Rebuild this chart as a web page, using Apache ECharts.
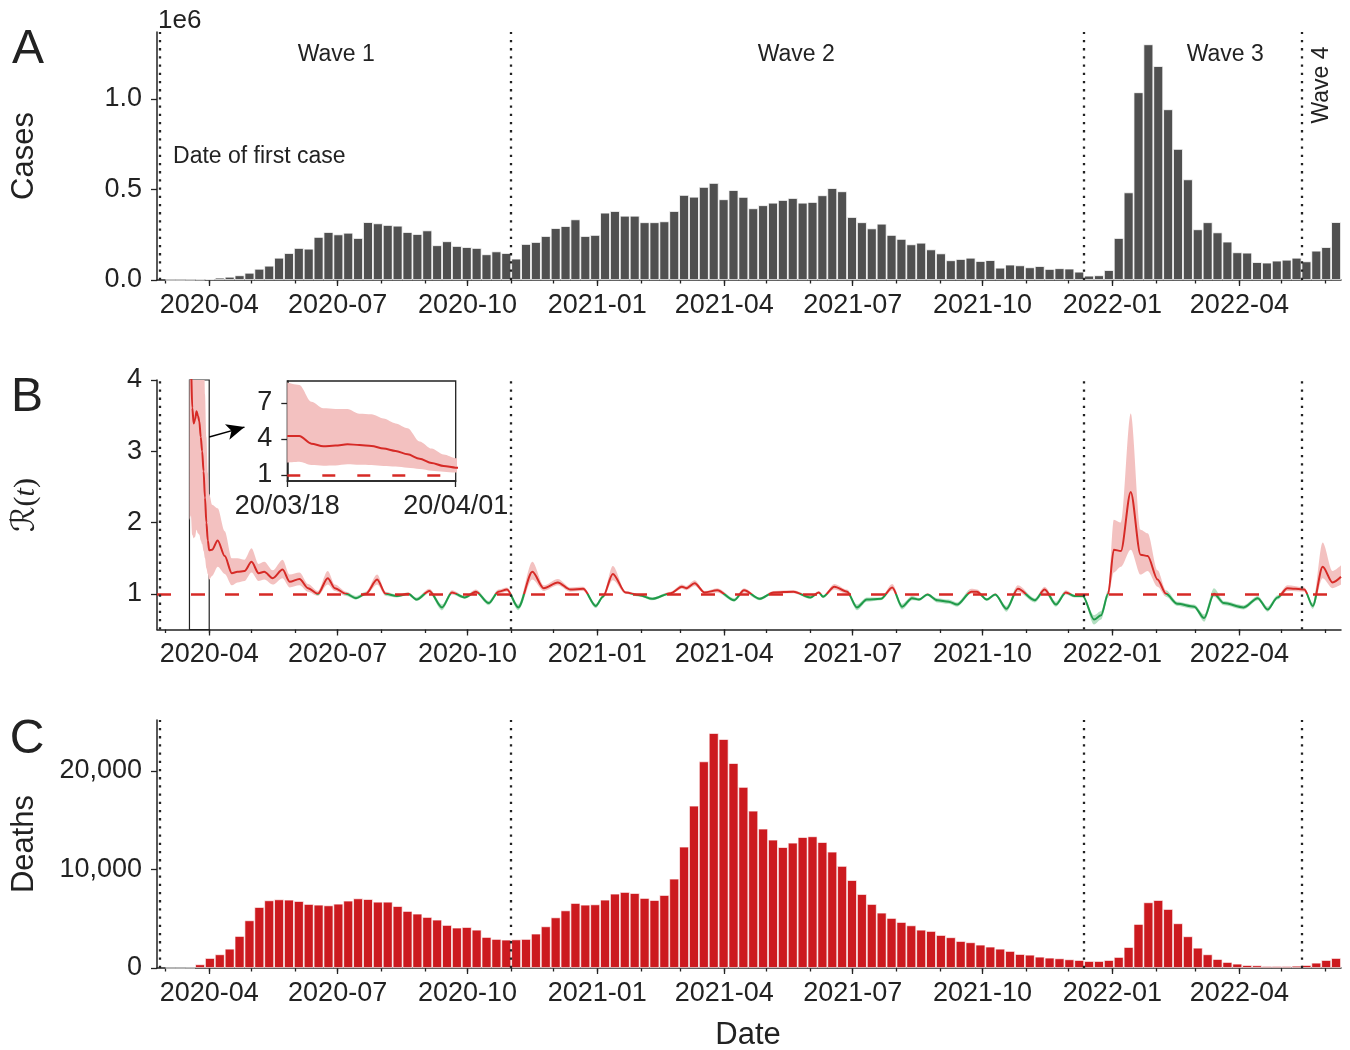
<!DOCTYPE html>
<html><head><meta charset="utf-8">
<script src="https://cdn.jsdelivr.net/npm/echarts@6/dist/echarts.min.js"></script>
<style>html,body{margin:0;padding:0;background:#fff}#c{width:1350px;height:1050px}</style>
</head><body><div id="c"></div>
<script>
// ---------------- DATA ----------------
// weekly bins, first week starts on this Sunday
const firstWeekStart = '2020-03-01';
const cases = [
 20,100,900,2400,6500,13000,18000,26000,40000,62000,
 79000,123000,149000,177000,173000,238000,265000,252000,261000,232000,
 320000,313000,304000,300000,265000,254000,274000,192000,214000,188000,
 182000,177000,142000,158000,149000,118000,199000,210000,243000,287000,
 298000,335000,243000,249000,372000,381000,355000,355000,319000,319000,
 324000,381000,470000,460000,514000,536000,446000,497000,459000,396000,
 413000,427000,442000,453000,427000,431000,468000,508000,490000,348000,
 319000,285000,311000,249000,227000,197000,206000,169000,147000,109000,
 116000,123000,105000,110000,68000,85000,81000,70000,77000,61000,
 65000,63000,46000,24000,26000,55000,232000,484000,1037000,1302000,
 1182000,943000,724000,556000,280000,319000,263000,212000,153000,151000,
 99000,96000,107000,112000,123000,103000,162000,182000,320000];
const deaths = [
 0,0,10,375,1015,1390,1960,3250,4840,6190,
 6870,6970,6940,6800,6500,6430,6360,6530,6840,7070,
 7000,6730,6730,6290,5790,5520,5180,4910,4370,4100,
 4160,3890,3150,2950,2880,2900,2950,3490,4230,5140,
 5850,6600,6430,6460,6940,7550,7720,7610,7110,6900,
 7410,9070,12320,16480,20980,23860,23250,20810,18380,15970,
 14150,13030,12280,12720,13300,13370,12790,11810,10360,8930,
 7510,6500,5620,5080,4670,4330,3890,3760,3350,3120,
 2740,2610,2370,2170,1960,1730,1420,1350,1150,1050,
 980,880,810,710,710,810,1120,2130,4470,6670,
 6900,5990,4540,3220,2060,1390,910,610,440,300,
 270,200,200,200,230,300,540,810,1015];

const rDates = [
 '2020-03-18','2020-03-19','2020-03-20','2020-03-21','2020-03-22','2020-03-23','2020-03-24','2020-03-25','2020-03-26','2020-03-27',
 '2020-03-28','2020-03-29','2020-03-30','2020-03-31','2020-04-01','2020-04-03','2020-04-07','2020-04-12','2020-04-17','2020-04-21',
 '2020-04-26','2020-05-01','2020-05-06','2020-05-10','2020-05-16','2020-05-23','2020-05-28','2020-06-04','2020-06-10','2020-06-17',
 '2020-06-24','2020-06-29','2020-07-07','2020-07-14','2020-07-21','2020-07-29','2020-08-04','2020-08-12','2020-08-20','2020-08-26',
 '2020-09-04','2020-09-13','2020-09-20','2020-09-29','2020-10-07','2020-10-16','2020-10-23','2020-10-29','2020-11-06','2020-11-16',
 '2020-11-24','2020-12-04','2020-12-13','2020-12-22','2020-12-31','2021-01-05','2021-01-12','2021-01-21','2021-01-31','2021-02-09',
 '2021-02-22','2021-03-02','2021-03-05','2021-03-11','2021-03-18','2021-03-27','2021-04-08','2021-04-15','2021-04-26','2021-05-06',
 '2021-05-20','2021-06-01','2021-06-07','2021-06-10','2021-06-18','2021-06-27','2021-07-04','2021-07-11','2021-07-21','2021-07-29',
 '2021-08-05','2021-08-12','2021-08-17','2021-08-23','2021-08-30','2021-09-07','2021-09-13','2021-09-23','2021-09-27','2021-10-04',
 '2021-10-10','2021-10-18','2021-10-26','2021-11-07','2021-11-14','2021-11-22','2021-11-29','2021-12-05','2021-12-11','2021-12-19',
 '2021-12-24','2021-12-29','2022-01-02','2022-01-07','2022-01-14','2022-01-21','2022-01-26','2022-02-02','2022-02-08','2022-02-16',
 '2022-02-28','2022-03-07','2022-03-14','2022-03-21','2022-04-04','2022-04-14','2022-04-21','2022-04-28','2022-05-05','2022-05-17',
 '2022-05-23','2022-05-30','2022-06-06','2022-06-12'];
const rMean = [
 4.25,4.25,3.61,3.39,3.45,3.56,3.5,3.42,3.2,3.0,
 2.72,2.35,2.0,1.75,1.61,1.62,1.75,1.53,1.29,1.31,
 1.32,1.45,1.29,1.31,1.22,1.34,1.17,1.21,1.08,1.0,
 1.22,1.08,1.0,0.94,1.0,1.2,1.0,0.97,1.0,0.92,
 1.04,0.81,1.02,0.95,1.03,0.87,1.03,1.06,0.81,1.31,
 1.08,1.16,1.06,1.07,0.83,0.96,1.28,1.02,0.98,0.93,
 1.01,1.1,1.08,1.15,1.02,1.05,0.91,1.05,0.93,1.02,
 1.03,0.95,1.02,0.96,1.1,1.03,0.81,0.92,0.93,1.09,
 0.82,0.94,0.92,0.99,0.91,0.89,0.85,1.03,1.03,0.92,
 0.99,0.79,1.07,0.91,1.06,0.85,1.02,0.97,0.97,0.64,
 0.7,1.0,1.62,1.6,2.43,1.55,1.53,1.2,1.0,0.86,
 0.82,0.66,1.0,0.87,0.81,0.94,0.78,0.95,1.08,1.06,
 0.83,1.38,1.16,1.24];
const rLow = [
 2.03,2.1,1.83,1.78,1.8,1.9,1.85,1.83,1.75,1.7,
 1.6,1.5,1.36,1.28,1.2,1.25,1.38,1.28,1.12,1.16,
 1.18,1.3,1.18,1.2,1.13,1.22,1.09,1.12,1.03,0.97,
 1.13,1.04,0.97,0.92,0.98,1.13,0.97,0.95,0.98,0.9,
 1.01,0.77,0.99,0.93,1.0,0.84,1.0,1.03,0.77,1.2,
 1.04,1.12,1.03,1.04,0.8,0.94,1.19,1.0,0.96,0.91,
 0.99,1.07,1.05,1.11,1.0,1.02,0.89,1.02,0.91,1.0,
 1.01,0.93,1.0,0.94,1.06,1.0,0.77,0.89,0.91,1.05,
 0.78,0.91,0.9,0.97,0.88,0.86,0.82,1.0,1.0,0.9,
 0.97,0.75,1.03,0.88,1.02,0.82,0.99,0.95,0.95,0.57,
 0.64,0.95,1.3,1.38,1.62,1.27,1.32,1.1,0.96,0.83,
 0.79,0.61,0.96,0.84,0.78,0.91,0.75,0.92,1.04,1.03,
 0.79,1.22,1.08,1.13];
const rHigh = [
 8.7,8.5,7.1,6.55,6.5,6.5,6.1,6.05,5.7,5.3,
 4.9,3.8,3.2,2.7,2.4,2.25,2.2,1.88,1.5,1.5,
 1.48,1.64,1.42,1.45,1.33,1.48,1.27,1.3,1.14,1.04,
 1.32,1.13,1.03,0.97,1.03,1.27,1.03,0.99,1.02,0.95,
 1.07,0.85,1.05,0.97,1.06,0.9,1.06,1.09,0.85,1.45,
 1.12,1.21,1.09,1.1,0.86,0.98,1.39,1.04,1.0,0.95,
 1.03,1.13,1.11,1.19,1.04,1.08,0.94,1.08,0.95,1.04,
 1.05,0.97,1.04,0.98,1.14,1.06,0.85,0.95,0.95,1.14,
 0.86,0.97,0.94,1.01,0.94,0.92,0.88,1.07,1.06,0.94,
 1.01,0.83,1.12,0.94,1.1,0.89,1.05,0.99,0.99,0.7,
 0.76,1.05,2.04,2.0,3.53,1.9,1.85,1.33,1.05,0.89,
 0.85,0.71,1.08,0.9,0.84,0.97,0.82,0.98,1.12,1.09,
 0.87,1.72,1.32,1.4];

const waveDates = ['2020-02-26','2020-11-01','2021-12-12','2022-05-15'];
const waveLabels = [
 {text:'Wave 1', date:'2020-06-30', value:1243000},
 {text:'Wave 2', date:'2021-05-22', value:1243000},
 {text:'Wave 3', date:'2022-03-22', value:1243000},
 {text:'Wave 4', date:'2022-05-29', value:1077000, rotate:90},
 {text:'Date of first case', date:'2020-03-06', value:680000, left:true}
];
const xTickLabels = ['2020-04','2020-07','2020-10','2021-01','2021-04','2021-07','2021-10','2022-01','2022-04'];
const casesTicks = [0, 500000, 1000000];
const rTicks = [1, 2, 3, 4];
const deathTicks = [0, 10000, 20000];
const insetRange = ['2020-03-18', '2020-04-01'];
const insetTicks = [1, 4, 7];

// ---------------- STYLE ----------------
const FONT = '"Liberation Sans", Arial, Helvetica, sans-serif';
const INK = '#222';
const RED = '#d62a26', GREEN = '#1f9a49', BAND_RED = '#f3c1c0', BAND_GREEN = '#b3dfc1';
const BAR_GRAY = '#505050', BAR_RED = '#cc1a1f';
const TICK_FS = 27;

function ts(s){ const p = s.split('-').map(Number); return Date.UTC(p[0], p[1]-1, p[2]||1); }
const X_MIN = ts('2020-02-24'), X_MAX = ts('2022-06-12');
const p0 = firstWeekStart.split('-').map(Number);
const weekCenter = k => Date.UTC(p0[0], p0[1]-1, p0[2] + 7*k + 3, 12);
const caseData = cases.map((v,k) => [weekCenter(k), v]);
const deathData = deaths.map((v,k) => [weekCenter(k), v]);
const rT = rDates.map(ts);
const lowData = rT.map((t,i) => [t, rLow[i]]);
const diffData = rT.map((t,i) => [t, +(rHigh[i]-rLow[i]).toFixed(4)]);
const meanData = rT.map((t,i) => [t, rMean[i]]);

const majorTicks = xTickLabels.map(ts);
const monthTicks = [];
for (let y = 2020, m = 2; y < 2022 || (y === 2022 && m <= 5); ) {
  const t = Date.UTC(y, m, 1);
  if (t >= X_MIN && t <= X_MAX) monthTicks.push(t);
  m++; if (m > 11) { m = 0; y++; }
}
const pad = n => String(n).padStart(2, '0');
const fmtYM = v => { const d = new Date(v); return d.getUTCFullYear() + '-' + pad(d.getUTCMonth()+1); };
const fmtYMD = v => { const d = new Date(v); return String(d.getUTCFullYear()).slice(2) + '/' + pad(d.getUTCMonth()+1) + '/' + pad(d.getUTCDate()); };

// band colour pieces along time: red where R >= 1, green otherwise (finite bounds)
const FAR = 1e12;
const bandPieces = [];
{
  let above = rMean[0] >= 1, start = X_MIN - FAR;
  for (let i = 1; i < rT.length; i++) {
    const a = rMean[i] >= 1;
    if (a !== above) {
      const f = (1 - rMean[i-1]) / (rMean[i] - rMean[i-1]);
      const tc = rT[i-1] + f * (rT[i] - rT[i-1]);
      bandPieces.push({gte: start, lt: tc, color: above ? BAND_RED : BAND_GREEN});
      start = tc; above = a;
    }
  }
  bandPieces.push({gte: start, lte: X_MAX + FAR, color: above ? BAND_RED : BAND_GREEN});
}

const axisLine = {show:true, onZero:false, lineStyle:{color:INK, width:1.5}};
const tickStyle = {color:INK, width:1.3};
const labelBase = {fontSize:TICK_FS, color:INK, fontFamily:FONT};

// display axes (value type, timestamps) – ticks & labels; also carry the bar series
function mainX(gi){
  return {type:'value', gridIndex:gi, position:'bottom', min:X_MIN, max:X_MAX, axisLine,
    axisTick:{show:true, customValues:majorTicks, length:6, lineStyle:tickStyle},
    axisLabel:Object.assign({customValues:majorTicks, formatter:fmtYM, margin:12}, labelBase),
    splitLine:{show:false}};
}
function minorX(gi){
  return {type:'value', gridIndex:gi, position:'bottom', min:X_MIN, max:X_MAX, axisLine:{show:false, onZero:false},
    axisTick:{show:true, customValues:monthTicks, length:3.5, lineStyle:tickStyle},
    axisLabel:{show:false}, splitLine:{show:false}};
}
// data axes (time type, hidden) – same range, carry the R(t) line/band series
function dataX(gi, min, max){
  return {type:'time', gridIndex:gi, position:'bottom', min, max, show:false,
    axisLine:{show:false, onZero:false}, axisTick:{show:false}, axisLabel:{show:false}, splitLine:{show:false}};
}
function yAx(gi, min, max, ticks, fmt){
  return {type:'value', gridIndex:gi, position:'left', min, max, axisLine,
    axisTick:{show:true, customValues:ticks, length:6, lineStyle:tickStyle},
    axisLabel:Object.assign({customValues:ticks, formatter:fmt, margin:15}, labelBase),
    splitLine:{show:false}};
}
const dotted = {color:INK, width:2.3, type:[2.3,5.9], cap:'butt'};
const waveML = () => ({symbol:['none','none'], silent:true, label:{show:false}, animation:false,
  lineStyle:dotted, emphasis:{disabled:true}, data: waveDates.map(d => ({xAxis: ts(d)}))});

const XB = 7, XI = 8;

const option = {
  animation:false,
  backgroundColor:'#fff',
  textStyle:{fontFamily:FONT},
  grid:[
    {left:157, top:32, width:1184, height:248},
    {left:157, top:380, width:1184, height:249.5},
    {left:157, top:720, width:1184, height:248},
    {left:287.3, top:381, width:168.4, height:100, show:true, backgroundColor:'#fff', borderColor:INK, borderWidth:1.3}
  ],
  xAxis:[
    mainX(0), mainX(1), mainX(2),
    {type:'value', gridIndex:3, position:'bottom', min:ts(insetRange[0]), max:ts(insetRange[1]), axisLine,
      axisTick:{show:true, customValues:insetRange.map(ts), length:6, lineStyle:tickStyle},
      axisLabel:Object.assign({customValues:insetRange.map(ts), formatter:fmtYMD, margin:12}, labelBase),
      splitLine:{show:false}},
    minorX(0), minorX(1), minorX(2),
    dataX(1, X_MIN, X_MAX),
    dataX(3, ts(insetRange[0]), ts(insetRange[1]))
  ],
  yAxis:[
    yAx(0, 0, 1370000, casesTicks, v => (v/1e6).toFixed(1)),
    yAx(1, 0.5, 4, rTicks, v => String(v)),
    yAx(2, 0, 25180, deathTicks, v => v.toLocaleString('en-US')),
    yAx(3, 0.5, 8.83, insetTicks, v => String(v))
  ],
  visualMap:[
    {type:'piecewise', show:false, dimension:1, seriesIndex:4,
      pieces:[{gte:-100, lt:1, color:GREEN}, {gte:1, lte:100, color:RED}]},
    {type:'piecewise', show:false, dimension:0, seriesIndex:3, pieces:bandPieces}
  ],
  series:[
    {type:'bar', name:'Cases', xAxisIndex:0, yAxisIndex:0, data:caseData, barWidth:'100%',
      itemStyle:{color:BAR_GRAY, borderColor:'#fff', borderWidth:0.8}, silent:true,
      markLine:waveML(),
      markPoint:{silent:true, animation:false, symbol:'circle', symbolSize:1, itemStyle:{color:'rgba(0,0,0,0)'},
        data: waveLabels.map(w => ({coord:[ts(w.date), w.value], value:w.text,
          label:{show:true, formatter:w.text, position: w.left ? 'right' : 'inside', distance:0,
            rotate: w.rotate || 0, fontSize:23, color:INK, fontFamily:FONT}}))}},
    {type:'bar', name:'Deaths', xAxisIndex:2, yAxisIndex:2, data:deathData, barWidth:'100%',
      itemStyle:{color:BAR_RED, borderColor:'rgba(255,255,255,0.85)', borderWidth:0.8}, silent:true,
      markLine:waveML()},
    {type:'line', name:'bandLo', xAxisIndex:XB, yAxisIndex:1, data:lowData, stack:'band', smooth:0.3, smoothMonotone:'x',
      symbol:'none', lineStyle:{opacity:0, width:0}, silent:true, z:1},
    {type:'line', name:'band', xAxisIndex:XB, yAxisIndex:1, data:diffData, stack:'band', smooth:0.3, smoothMonotone:'x',
      symbol:'none', lineStyle:{opacity:0, width:0}, areaStyle:{opacity:1}, silent:true, z:1},
    {type:'line', name:'R(t)', xAxisIndex:XB, yAxisIndex:1, data:meanData, smooth:0.3, smoothMonotone:'x',
      symbol:'none', lineStyle:{width:2}, silent:true, z:3},
    {type:'line', name:'threshold', xAxisIndex:XB, yAxisIndex:1, data:[], z:4,
      markLine:{symbol:['none','none'], silent:true, label:{show:false}, animation:false,
        lineStyle:{color:RED, width:2.6, type:[14,20], cap:'butt'}, data:[{yAxis:1}]}},
    {type:'line', name:'waves', xAxisIndex:XB, yAxisIndex:1, data:[], z:4,
      markLine:waveML(),
      markArea:{silent:true, animation:false, itemStyle:{color:'rgba(0,0,0,0)', borderColor:INK, borderWidth:1.2},
        data:[[{xAxis:ts(insetRange[0])}, {xAxis:ts(insetRange[1])}]]}},
    {type:'line', name:'arrow', xAxisIndex:XB, yAxisIndex:1, data:[], z:4,
      markLine:{symbol:['none','arrow'], symbolSize:[12,18], silent:true, label:{show:false}, animation:false,
        lineStyle:{color:'#000', width:1.4, type:'solid'},
        data:[[{coord:[ts('2020-04-01'), 3.2]}, {coord:[ts('2020-04-26'), 3.34]}]]}},
    {type:'line', name:'insetLo', xAxisIndex:XI, yAxisIndex:3, data:lowData, stack:'bandI', smooth:0.3, smoothMonotone:'x',
      symbol:'none', lineStyle:{opacity:0, width:0}, silent:true, z:6},
    {type:'line', name:'insetBand', xAxisIndex:XI, yAxisIndex:3, data:diffData, stack:'bandI', smooth:0.3, smoothMonotone:'x',
      symbol:'none', lineStyle:{opacity:0, width:0}, areaStyle:{color:BAND_RED, opacity:1}, silent:true, z:6},
    {type:'line', name:'insetR', xAxisIndex:XI, yAxisIndex:3, data:meanData, smooth:0.3, smoothMonotone:'x',
      symbol:'none', lineStyle:{width:2, color:RED}, silent:true, z:7,
      markLine:{symbol:['none','none'], silent:true, label:{show:false}, animation:false,
        lineStyle:{color:RED, width:2.6, type:[13,22], cap:'butt'}, data:[{yAxis:1}]}}
  ],
  graphic:[
    {type:'text', x:28, y:50, style:{text:'A', font:'48px '+FONT, fill:INK, align:'center', verticalAlign:'middle'}},
    {type:'text', x:27, y:398, style:{text:'B', font:'48px '+FONT, fill:INK, align:'center', verticalAlign:'middle'}},
    {type:'text', x:27, y:740, style:{text:'C', font:'48px '+FONT, fill:INK, align:'center', verticalAlign:'middle'}},
    {type:'text', x:24, y:156, rotation:Math.PI/2, style:{text:'Cases', font:'31px '+FONT, fill:INK, align:'center', verticalAlign:'middle'}},
    {type:'text', x:26, y:505, rotation:Math.PI/2, style:{text:'{r|ℛ}{n|(}{i|t}{n|)}', fill:INK, align:'center', verticalAlign:'middle',
      rich:{r:{font:'32px "DejaVu Serif", "DejaVu Sans", serif', fill:INK}, n:{font:'30px "Liberation Serif", serif', fill:INK}, i:{font:'italic 30px "Liberation Serif", serif', fill:INK}}}},
    {type:'text', x:24, y:844, rotation:Math.PI/2, style:{text:'Deaths', font:'31px '+FONT, fill:INK, align:'center', verticalAlign:'middle'}},
    {type:'text', x:158, y:21, style:{text:'1e6', font:'26px '+FONT, fill:INK, align:'left', verticalAlign:'middle'}},
    {type:'text', x:748, y:1035, style:{text:'Date', font:'31px '+FONT, fill:INK, align:'center', verticalAlign:'middle'}}
  ]
};
const chart = echarts.init(document.getElementById('c'), null, {renderer:'canvas'});
chart.setOption(option);
</script></body></html>
